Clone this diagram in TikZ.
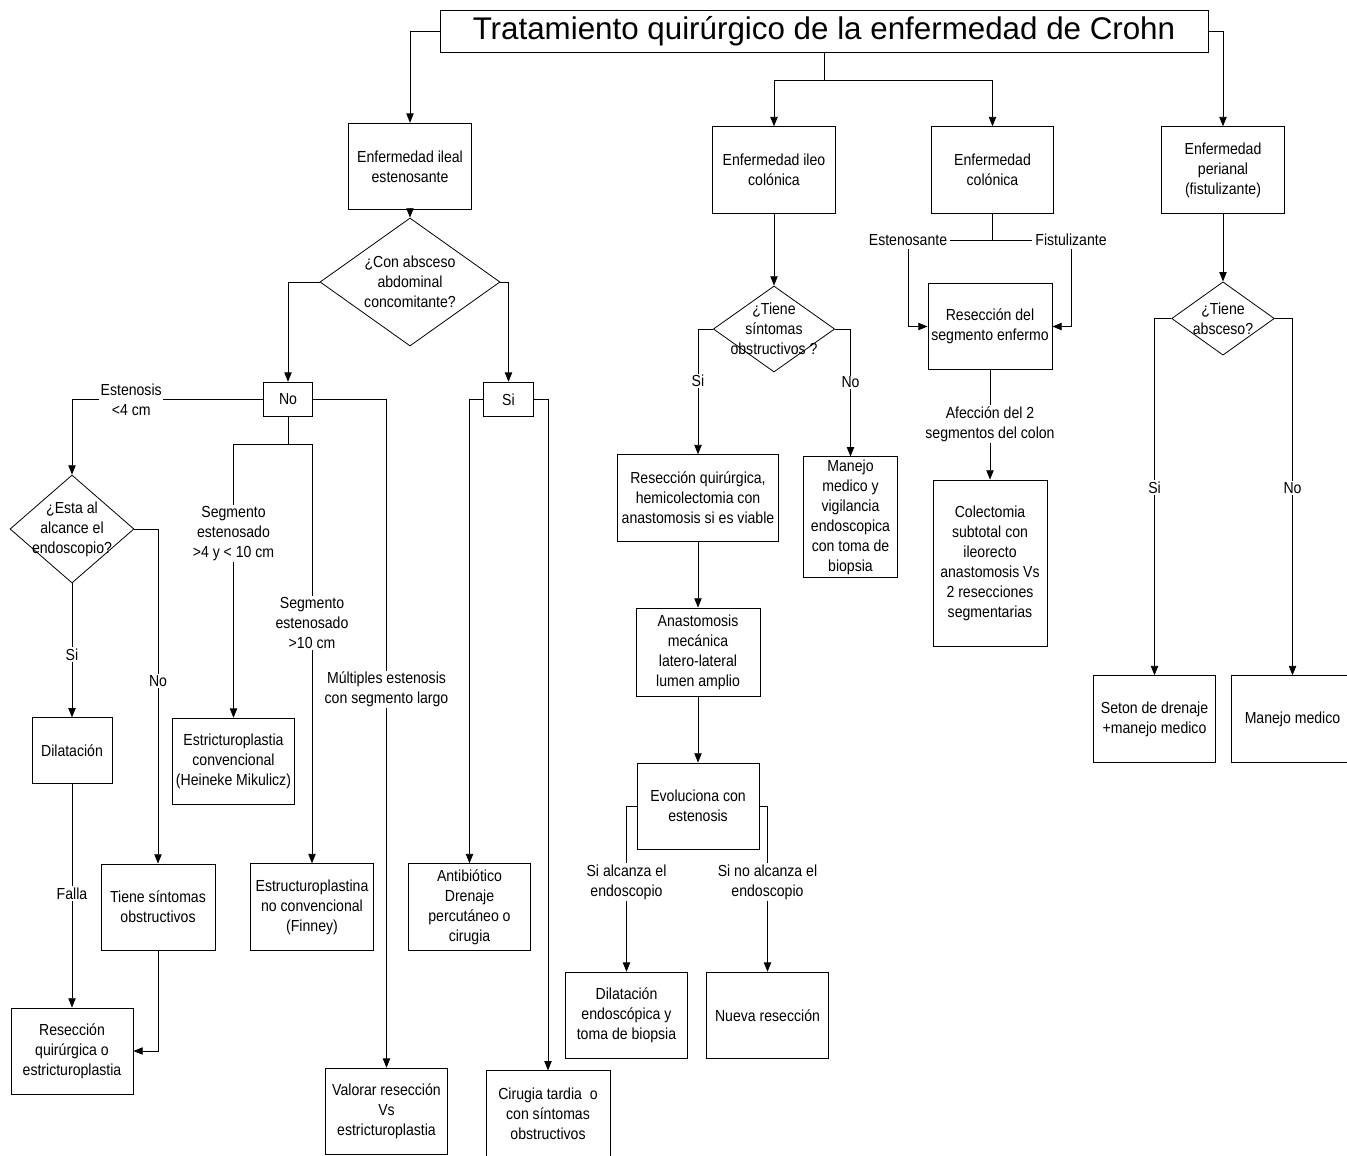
\documentclass[tikz,border=0pt]{standalone}
\usepackage{fontspec}
\setmainfont{Liberation Sans}[FakeStretch=0.88]
\newfontfamily\titlefont{Liberation Sans}
\usetikzlibrary{arrows.meta, shapes.geometric}
\newcommand{\nodefont}{\fontsize{12}{15}\selectfont}

\begin{document}
\begin{tikzpicture}[
  x=0.75pt, y=-0.75pt,
  line width=0.6pt,
  box/.style={
    draw,
    rectangle,
    minimum width=92pt,
    minimum height=65pt,
    align=center,
    font=\nodefont,
    inner sep=2pt
  },
  smallbox/.style={box, minimum width=37pt, minimum height=26pt},
  decision/.style={draw, diamond, inner sep=0pt},
  qtext/.style={align=center, font=\nodefont, inner sep=0pt},
  lbl/.style={fill=white, align=center, font=\nodefont, inner sep=1pt},
  arrow/.style={-{Triangle[length=7pt, width=5.5pt]}}
]
\useasboundingbox (0,0) rectangle (1347,1156);

% Title
\node[box, minimum width=576pt, minimum height=31.5pt, font=\titlefont\fontsize{23.5}{28}\selectfont]
  (title) at (824,31) {Tratamiento quirúrgico de la enfermedad de Crohn};
\coordinate (tsplit) at (824,80);

% Main groups
\node[box] (ileal)    at (410,166.5) {Enfermedad ileal\\estenosante};
\node[box] (ileocol)  at (774,170)   {Enfermedad ileo\\colónica};
\node[box] (colon)    at (992.5,170) {Enfermedad\\colónica};
\node[box] (perianal) at (1223,170)  {Enfermedad\\perianal\\(fistulizante)};

\draw[arrow] (title.west) -| (ileal.north);
\draw[arrow] (title.east) -| (perianal.north);
\draw (title.south) -- (tsplit);
\draw[arrow] (tsplit) -| (ileocol.north);
\draw[arrow] (tsplit) -| (colon.north);

% Ileal branch
\node[decision, minimum width=135pt, minimum height=96pt] (absceso) at (410,282) {};
\node[qtext] (absceso-t) at (absceso) {¿Con absceso\\abdominal\\concomitante?};
\node[smallbox] (no) at (288,399.5) {No};
\node[smallbox] (si) at (508.5,399.5) {Si};

\draw[arrow] (ileal.south) -- (absceso.north);
\draw[arrow] (absceso.west) -| (no.north);
\draw[arrow] (absceso.east) -| (si.north);

\node[decision, minimum width=93pt, minimum height=81pt] (alcance) at (72,529) {};
\node[qtext] (alcance-t) at (alcance) {¿Esta al\\alcance el\\endoscopio?};
\node[box, minimum width=60pt, minimum height=49pt] (dilat) at (72,750.5) {Dilatación};
\node[box, minimum width=85.5pt, minimum height=64.5pt] (tiene) at (158,907) {Tiene síntomas\\obstructivos};
\node[box, minimum width=91.5pt, minimum height=64.5pt] (resq) at (72,1051) {Resección\\quirúrgica o\\estricturoplastia};
\node[box] (estric)  at (233.5,761.5) {Estricturoplastia\\convencional\\(Heineke Mikulicz)};
\node[box] (estruc)  at (312,907)     {Estructuroplastina\\no convencional\\(Finney)};
\node[box] (valorar) at (386.5,1111.5) {Valorar resección\\Vs\\estricturoplastia};
\node[box] (antib)   at (469.5,907)   {Antibiótico\\Drenaje\\percutáneo o\\cirugia};
\node[box, minimum width=93pt, minimum height=64pt] (cirugia) at (548,1113.5) {Cirugia tardia\ \ o\\con síntomas\\obstructivos};
\coordinate (nsplit) at (288,444);

\draw[arrow] (no.west) -| (alcance.north) node[lbl, pos=0.345] {Estenosis\\<4 cm};
\draw[arrow] (no.east) -| (valorar.north) node[lbl, pos=0.717] {Múltiples estenosis\\con segmento largo};
\draw (no.south) -- (nsplit);
\draw[arrow] (nsplit) -| (estric.north) node[lbl, pos=0.664] {Segmento\\estenosado\\>4 y < 10 cm};
\draw[arrow] (nsplit) -| (estruc.north) node[lbl, pos=0.714] {Segmento\\estenosado\\>10 cm};
\draw[arrow] (alcance.south) -- (dilat.north) node[lbl, pos=0.53] {Si};
\draw[arrow] (alcance.east) -| (tiene.north) node[lbl, pos=0.727] {No};
\draw[arrow] (dilat.south) -- (resq.north) node[lbl, pos=0.49] {Falla};
\draw[arrow] (tiene.south) |- (resq.east);
\draw[arrow] (si.west) -| (antib.north);
\draw[arrow] (si.east) -| (cirugia.north);

% Ileo-colonic branch
\node[decision, minimum width=91pt, minimum height=64.5pt] (obstr) at (774,329) {};
\node[qtext] (obstr-t) at (obstr) {¿Tiene\\síntomas\\obstructivos ?};
\node[box, minimum width=121pt] (resqx) at (698,498) {Resección quirúrgica,\\hemicolectomia con\\anastomosis si es viable};
\node[box, minimum width=71pt, minimum height=90pt] (manejo) at (850.5,517) {Manejo\\medico y\\vigilancia\\endoscopica\\con toma de\\biopsia};
\node[box, minimum width=93pt, minimum height=66pt] (anast) at (698,652) {Anastomosis\\mecánica\\latero-lateral\\lumen amplio};
\node[box, minimum width=91.5pt, minimum height=64.5pt] (evol) at (698,806) {Evoluciona con\\estenosis};
\node[box] (dilend) at (626.5,1015.5) {Dilatación\\endoscópica y\\toma de biopsia};
\node[box] (nueva)  at (767.5,1015.5) {Nueva resección};

\draw[arrow] (ileocol.south) -- (obstr.north);
\draw[arrow] (obstr.west) -| (resqx.north) node[lbl, pos=0.708] {Si};
\draw[arrow] (obstr.east) -| (manejo.north) node[lbl, pos=0.71] {No};
\draw[arrow] (resqx.south) -- (anast.north);
\draw[arrow] (anast.south) -- (evol.north);
\draw[arrow] (evol.west) -| (dilend.north) node[lbl, pos=0.73] {Si alcanza el\\endoscopio};
\draw[arrow] (evol.east) -| (nueva.north) node[lbl, pos=0.73] {Si no alcanza el\\endoscopio};

% Colonic branch
\coordinate (csplit) at (992.5,240);
\node[qtext, inner sep=2pt] (est) at (908,240)  {Estenosante};
\node[qtext, inner sep=2pt] (fis) at (1071,240) {Fistulizante};
\node[box, minimum width=93pt] (reseg) at (990,326.5) {Resección del\\segmento enfermo};
\node[box, minimum width=85.5pt, minimum height=124.5pt] (colect) at (990,563) {Colectomia\\subtotal con\\ileorecto\\anastomosis Vs\\2 resecciones\\segmentarias};

\draw (colon.south) -- (csplit);
\draw (csplit) -- (est.east);
\draw (csplit) -- (fis.west);
\draw[arrow] (est.south) |- (reseg.west);
\draw[arrow] (fis.south) |- (reseg.east);
\draw[arrow] (reseg.south) -- (colect.north) node[lbl, pos=0.49] {Afección del 2\\segmentos del colon};

% Perianal branch
\node[decision, minimum width=77pt, minimum height=55pt] (absc2) at (1223,318.5) {};
\node[qtext] (absc2-t) at (absc2) {¿Tiene\\absceso?};
\node[box] (seton)  at (1154.5,719) {Seton de drenaje\\+manejo medico};
\node[box] (manmed) at (1292.5,719) {Manejo medico};

\draw[arrow] (perianal.south) -- (absc2.north);
\draw[arrow] (absc2.west) -| (seton.north) node[lbl, pos=0.737] {Si};
\draw[arrow] (absc2.east) -| (manmed.north) node[lbl, pos=0.737] {No};

\end{tikzpicture}
\end{document}
